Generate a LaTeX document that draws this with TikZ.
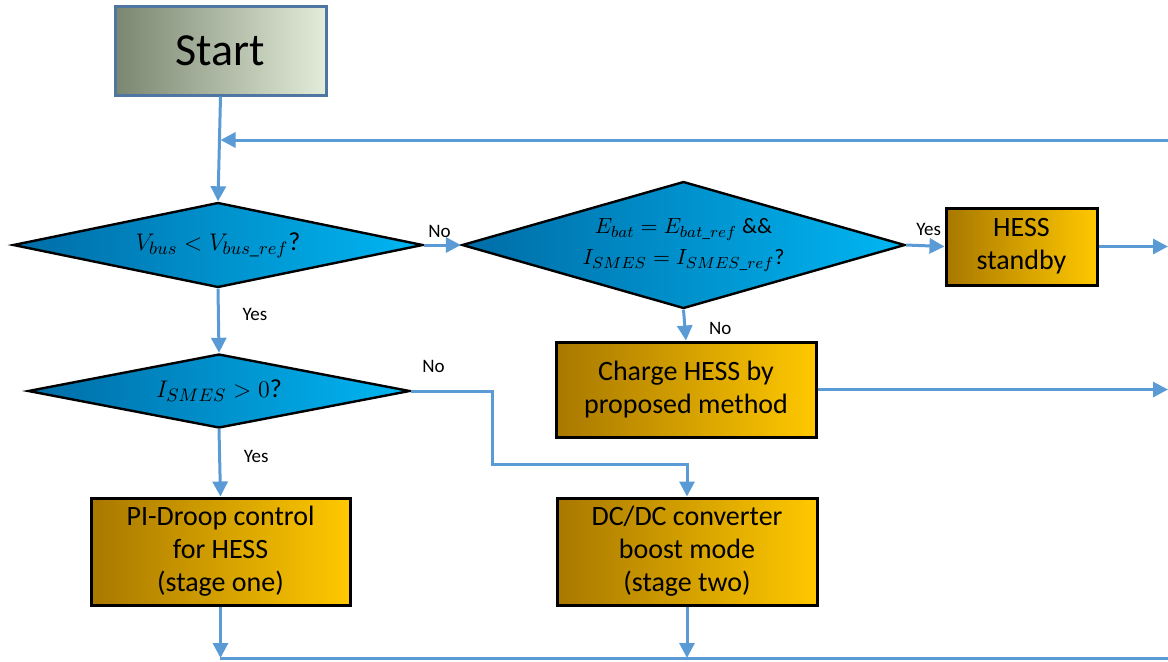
\documentclass[tikz,border=0pt]{standalone}
\usepackage[no-math]{fontspec}
\setmainfont{Carlito}
\usepackage{amsmath}
\usetikzlibrary{calc}
\usetikzlibrary{arrows.meta}
\usetikzlibrary{shapes.geometric}
\usepackage{xcolor}

\definecolor{flowblue}{RGB}{91,155,213}
\definecolor{startdark}{RGB}{122,134,112}
\definecolor{startlight}{RGB}{226,236,218}
\definecolor{startedge}{RGB}{79,118,160}
\definecolor{decdark}{RGB}{0,108,166}
\definecolor{declight}{RGB}{0,182,242}
\definecolor{procdark}{RGB}{168,120,0}
\definecolor{proclight}{RGB}{255,200,0}

\tikzset{
  startbox/.style={draw=startedge, line width=1.5pt, left color=startdark, right color=startlight,
    minimum width=105.5pt, minimum height=44.5pt, font=\fontsize{23}{28}\selectfont},
  decision/.style={diamond, draw=black, line width=1.2pt, left color=decdark, right color=declight,
    inner sep=0pt, align=center, text=black},
  procbox/.style={draw=black, line width=1.5pt, left color=procdark, right color=proclight,
    inner sep=0pt, align=center, font=\fontsize{14}{16.5}\selectfont},
  conn/.style={draw=flowblue, line width=1.5pt, -{Triangle[length=7.5pt,width=7.5pt]}},
  flowline/.style={draw=flowblue, line width=1.5pt},
  lbl/.style={font=\fontsize{9.5}{11}\selectfont}
}

\begin{document}
\begin{tikzpicture}[x=0.5pt, y=-0.5pt]
\useasboundingbox (0,0) rectangle (1168,661);

% left column
\node[startbox] (start) at (220.5,50.5) {Start};
\node[decision, minimum width=205pt, minimum height=42.5pt, aspect=4.8,
  font=\fontsize{13}{16}\selectfont] (vbus) at (218,245) {$V_{bus} < V_{bus\_ref}$?};
\node[decision, minimum width=191pt, minimum height=37pt, aspect=5.2,
  font=\fontsize{13}{16}\selectfont] (ismes) at (219,391) {$I_{SMES} > 0$?};
\node[procbox, minimum width=129.5pt, minimum height=53.5pt] (pidroop) at (220.5,551.5)
  {PI-Droop control\\for HESS\\(stage one)};

% right column
\node[decision, minimum width=221.5pt, minimum height=63.5pt, aspect=3.5,
  font=\fontsize{11}{15.5}\selectfont] (ebat) at (683.5,245)
  {$E_{bat} = E_{bat\_ref}$ \&\&\\$I_{SMES} = I_{SMES\_ref}$?};
\node[procbox, minimum width=75.5pt, minimum height=38.5pt] (standby) at (1021.5,246.5) {HESS\\standby};
\node[procbox, minimum width=130pt, minimum height=47.5pt] (charge) at (686,389.5)
  {Charge HESS by\\proposed method};
\node[procbox, minimum width=130pt, minimum height=53.5pt] (boost) at (687,551.5)
  {DC/DC converter\\boost mode\\(stage two)};

% loop back and collector lines
\coordinate (fbR) at (1168,140);
\coordinate (botL) at (220,658);
\coordinate (botR) at (1168,658);
\coordinate (nobend) at (492,464);

\draw[conn] (start.south) -- (vbus.north);
\draw[conn] (fbR) -- (fbR -| start.south);
\draw[conn] (vbus.east) -- (ebat.west);
\node[lbl, anchor=south west] (noA) at ($(vbus.east)+(-3,0)$) {No};
\draw[conn] (ebat.east) -- (standby.west);
\node[lbl, anchor=south west] (yesA) at ($(ebat.east)+(3,-2)$) {Yes};
\draw[conn] (standby.east) -- (standby.east -| fbR);
\draw[conn] (ebat.south) -- node[lbl, pos=0.6, right=8pt] (noB) {No} (charge.north);
\draw[conn] (charge.east) -- (charge.east -| fbR);
\draw[conn] (vbus.south) -- node[lbl, pos=0.4, right=8pt] (yesB) {Yes} (ismes.north);
\draw[conn] (ismes.east) -| (nobend) -| (boost.north);
\node[lbl, anchor=south west] (noC) at ($(ismes.east)+(4,-11)$) {No};
\draw[conn] (ismes.south) -- node[lbl, pos=0.4, right=8pt] (yesC) {Yes} (pidroop.north);
\draw[conn] (pidroop.south) -- (pidroop.south |- botL);
\draw[conn] (boost.south) -- (boost.south |- botL);
\draw[flowline] (botL) -- (botR);
\end{tikzpicture}
\end{document}
